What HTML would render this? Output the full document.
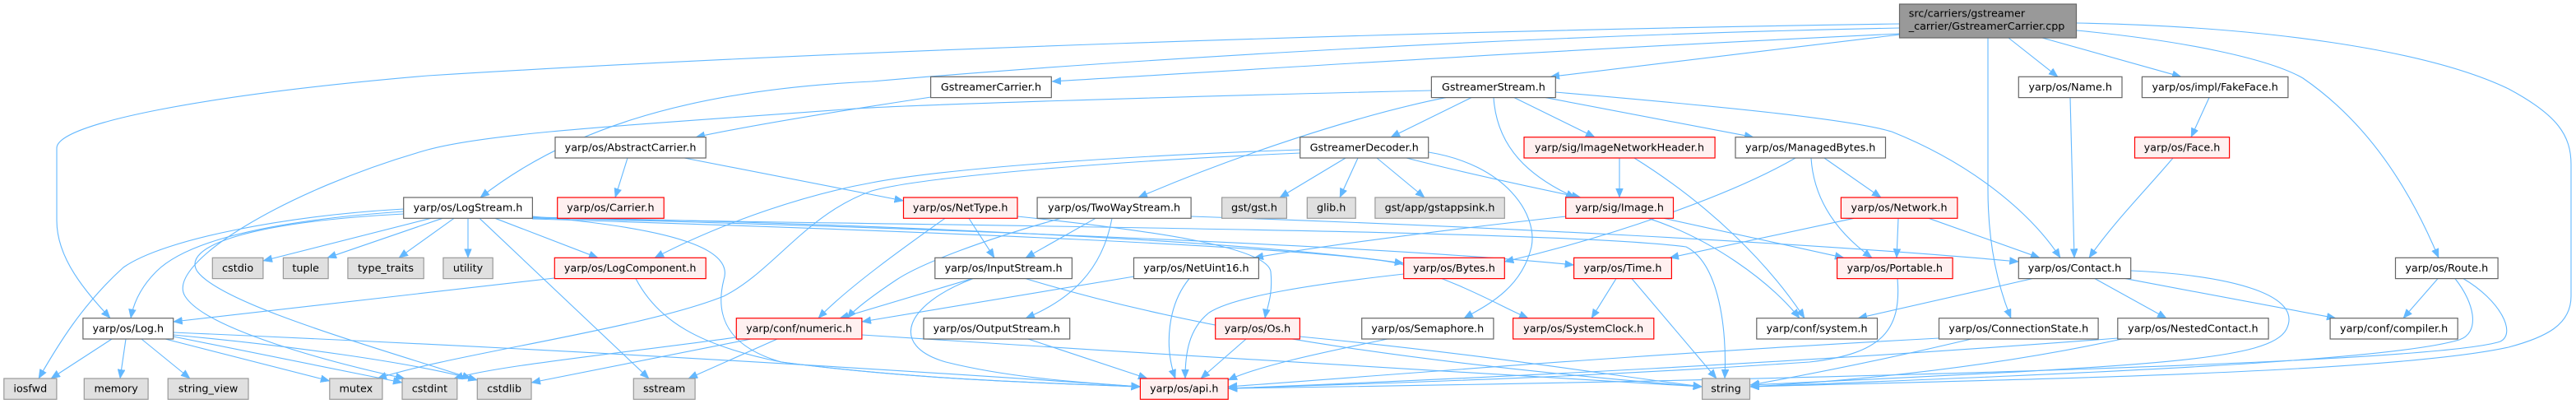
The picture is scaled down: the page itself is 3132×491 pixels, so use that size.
<!DOCTYPE html>
<html>
<head>
<meta charset="utf-8">
<style>
html,body{margin:0;padding:0;background:#fff;}
svg{display:block;}
.e{fill:none;stroke:#63b8ff;stroke-width:1.1;marker-end:url(#ah);}
.n rect{fill:#fff;stroke:#666;stroke-width:1.2;}
.r rect{fill:#fff0f0;stroke:#ff0000;stroke-width:1.2;}
.g rect{fill:#e0e0e0;stroke:#999;stroke-width:1.2;}
text{font-family:"DejaVu Sans","Liberation Sans",sans-serif;font-size:12.75px;fill:#000;text-anchor:middle;}
</style>
</head>
<body>
<svg width="3132" height="491" viewBox="0 0 3132 491" xmlns="http://www.w3.org/2000/svg">
<defs>
<marker id="ah" markerUnits="userSpaceOnUse" markerWidth="12" markerHeight="10" refX="11" refY="4.5" orient="auto">
<path d="M0,0 L11,4.5 L0,9 z" fill="#63b8ff" stroke="#63b8ff" stroke-width="0.5"/>
</marker>
</defs>
<rect x="0" y="0" width="3132" height="491" fill="#fff"/>

<!-- edges -->
<g>
<path class="e" d="M2310,41 C1900,60 1500,86 1279,99"/>
<path class="e" d="M2310,42 C2150,60 1990,80 1885,93.3"/>
<path class="e" d="M2310,29 C1700,38 1000,62 520,92 C250,115 69,150 69,180 L69,268 C69,315 105,355 134,386.7"/>
<path class="e" d="M2310,34 C1800,44 1300,78 1060,99 C820,110 680,165 584,240"/>
<path class="e" d="M2525,28 C2750,32 2950,60 3050,108 C3110,140 3126,165 3126,200 L3126,360 C3126,395 3095,410 3050,422 C2900,455 2400,462 2128,470"/>
<path class="e" d="M2525,37 C2660,50 2760,72 2800,95 C2880,150 2930,230 2965,313.3"/>
<path class="e" d="M2483,46 L2652,93.3"/>
<path class="e" d="M2442,46 L2502,93.3"/>
<path class="e" d="M2417,46 L2417,230 C2417,300 2430,350 2445,386.7"/>
<path class="e" d="M1132,118 C1000,138 900,155 846,166.7"/>
<path class="e" d="M763,192 L748,240"/>
<path class="e" d="M832,192 L1098.5,244"/>
<path class="e" d="M1789,118.6 L1691,166.7"/>
<path class="e" d="M1841,118.6 L1939,166.7"/>
<path class="e" d="M1816,118.6 C1820,180 1860,215 1915,240"/>
<path class="e" d="M1879,118.6 L2132,166.7"/>
<path class="e" d="M1891,112 C2100,130 2250,145 2300,160 C2400,200 2470,260 2505,313.3"/>
<path class="e" d="M1758,118.6 C1650,140 1500,190 1384,240"/>
<path class="e" d="M1740,110 C1400,118 1100,128 1040,132 C800,150 600,160 520,182 C350,230 200,320 225,360 C250,400 400,440 492,460"/>
<path class="e" d="M1636,192 L1556,240"/>
<path class="e" d="M1651,192 L1629,240"/>
<path class="e" d="M1674,192 L1732,240"/>
<path class="e" d="M1710,192 C1780,210 1850,225 1922,240"/>
<path class="e" d="M1737,185 C1830,200 1870,260 1862,300 C1850,350 1810,370 1780,386.7"/>
<path class="e" d="M1581,182 C1350,190 1150,205 1060,222 C960,240 860,280 796,313.3"/>
<path class="e" d="M1581,186 C1350,196 1120,215 1060,232 C980,260 940,330 880,360 C780,400 550,430 459,460"/>
<path class="e" d="M1969,192 L1969,240"/>
<path class="e" d="M1987,192 C2080,250 2150,320 2194,386.7"/>
<path class="e" d="M1904,263 C1750,280 1600,300 1525,313.3"/>
<path class="e" d="M2023,265.3 L2242,313.3"/>
<path class="e" d="M2004,265.3 C2080,290 2150,340 2188,386.7"/>
<path class="e" d="M2183,192 C2100,240 1950,290 1829.3,318"/>
<path class="e" d="M2202,192 C2205,240 2230,280 2276,313.3"/>
<path class="e" d="M2218,192 L2287,240"/>
<path class="e" d="M2308,265.3 L2306,313.3"/>
<path class="e" d="M2345,265.3 L2480,313.3"/>
<path class="e" d="M2254,265.3 L2030,313.3"/>
<path class="e" d="M2517,118.6 L2522,313.3"/>
<path class="e" d="M2642,192 C2610,230 2570,270 2540,313.3"/>
<path class="e" d="M2686,118.6 L2664,166.7"/>
<path class="e" d="M1448,263 C1800,275 2200,295 2454.3,318"/>
<path class="e" d="M2471,338.6 L2259,386.7"/>
<path class="e" d="M2547,338.6 L2634,386.7"/>
<path class="e" d="M2584,338.6 L2840,386.7"/>
<path class="e" d="M2591,329 C2720,335 2800,360 2780,400 C2760,440 2600,445 2128,468"/>
<path class="e" d="M2964,338.6 L2922,386.7"/>
<path class="e" d="M2985,338.6 C3010,370 3015,405 2990,413 C2900,440 2500,455 2128,470"/>
<path class="e" d="M2995,338.6 C3040,365 3060,405 3040,415 C2950,445 2000,465 1493.2,472"/>
<path class="e" d="M1965,338.6 L1935,386.7"/>
<path class="e" d="M1984,338.6 L2087,460"/>
<path class="e" d="M1707,333 C1600,345 1500,360 1470,380 C1445,400 1441,430 1441,460"/>
<path class="e" d="M1687,412 C1600,430 1530,445 1493,462"/>
<path class="e" d="M1515,412 L1460,460"/>
<path class="e" d="M1580,409 C1800,430 1950,455 2069.6,470"/>
<path class="e" d="M1446,338.6 C1420,370 1415,420 1429,460"/>
<path class="e" d="M1379,336 L1048,391"/>
<path class="e" d="M1182,338.6 L1021,386.7"/>
<path class="e" d="M1183,338.6 C1100,370 1080,420 1150,440 C1230,460 1320,465 1386.4,470"/>
<path class="e" d="M1247,338.6 C1450,400 1700,440 2069.6,470"/>
<path class="e" d="M1250,412 L1395,460"/>
<path class="e" d="M1332,265.3 L1247,313.3"/>
<path class="e" d="M1352,265.3 C1340,330 1300,365 1247,386.7"/>
<path class="e" d="M1290,265.3 C1200,290 1120,320 1090,340 C1060,360 1040,375 1030,386.7"/>
<path class="e" d="M1178,265.3 L1209,313.3"/>
<path class="e" d="M1149,265.3 C1100,300 1030,350 995,386.7"/>
<path class="e" d="M1237,263 C1400,280 1540,300 1545,330 C1548,360 1540,375 1538,386.7"/>
<path class="e" d="M895,410 C750,430 600,445 552,460"/>
<path class="e" d="M913,412 L646,465"/>
<path class="e" d="M945,412 L837,460"/>
<path class="e" d="M1048,407 C1400,430 1800,455 2069.6,470"/>
<path class="e" d="M524,265.3 L320,317"/>
<path class="e" d="M538,265.3 L398,313.3"/>
<path class="e" d="M552,265.3 L485,313.3"/>
<path class="e" d="M569,265.3 L569,313.3"/>
<path class="e" d="M602,265.3 L727,313.3"/>
<path class="e" d="M583,265.3 L789,460"/>
<path class="e" d="M491,257 C300,270 220,300 190,330 C170,350 162,370 159,386.7"/>
<path class="e" d="M491,254 C350,262 200,290 150,325 C100,370 70,420 47,460"/>
<path class="e" d="M491,260 C300,270 220,300 240,330 C270,370 450,420 573,460"/>
<path class="e" d="M647,264 C1000,270 1500,290 1706.7,320"/>
<path class="e" d="M647,265 C1100,275 1700,300 1913.6,322"/>
<path class="e" d="M647,266 C1100,280 1600,300 1700,320 C1780,345 1820,370 1858,386.7"/>
<path class="e" d="M647,265 C1200,275 1900,280 2050,300 C2090,320 2100,400 2097,460"/>
<path class="e" d="M647,263 C850,280 890,310 880,340 C870,380 880,420 950,440 C1100,460 1250,465 1386.4,470"/>
<path class="e" d="M674,338 L210.7,391"/>
<path class="e" d="M773,338.6 C800,390 850,420 950,440 C1100,460 1250,465 1386.4,470"/>
<path class="e" d="M136,412 L62,460"/>
<path class="e" d="M153,412 L146,460"/>
<path class="e" d="M172,412 L231,460"/>
<path class="e" d="M201,412 L400.8,463"/>
<path class="e" d="M210.7,409 L489,465"/>
<path class="e" d="M210.7,407 C350,420 500,440 580.3,462"/>
<path class="e" d="M210.7,404 C700,425 1100,450 1386.4,470"/>
<path class="e" d="M2307,338.6 C2312,400 2290,430 2200,440 C1900,460 1700,465 1493.2,472"/>
<path class="e" d="M2358,411 C2000,430 1700,455 1493.2,470"/>
<path class="e" d="M2397,412 C2300,435 2200,455 2128,468"/>
<path class="e" d="M2575,411 C2200,440 1800,460 1493.2,472"/>
<path class="e" d="M2580,412 C2450,440 2300,460 2128,470"/>
</g>

<!-- root -->
<g>
<rect x="2309.5" y="5" width="215" height="41" fill="#999999" stroke="#666666" stroke-width="1.2"/>
<text x="2320.7" y="20.7" style="text-anchor:start">src/carriers/gstreamer</text>
<text x="2320.7" y="36" style="text-anchor:start">_carrier/GstreamerCarrier.cpp</text>
</g>

<!-- row 1 (y=93.3) -->
<g class="n"><rect x="1131.6" y="93.3" width="146.7" height="25.3"/><text x="1205" y="110">GstreamerCarrier.h</text></g>
<g class="n"><rect x="1740.4" y="93.3" width="150.9" height="25.3"/><text x="1815.9" y="110">GstreamerStream.h</text></g>
<g class="n"><rect x="2454.3" y="93.3" width="125.7" height="25.3"/><text x="2517.2" y="110">yarp/os/Name.h</text></g>
<g class="n"><rect x="2604.4" y="93.3" width="177.5" height="25.3"/><text x="2693.2" y="110">yarp/os/impl/FakeFace.h</text></g>

<!-- row 2 (y=166.7) -->
<g class="n"><rect x="675" y="166.7" width="183.2" height="25.3"/><text x="766.6" y="183.3">yarp/os/AbstractCarrier.h</text></g>
<g class="n"><rect x="1580.7" y="166.7" width="156" height="25.3"/><text x="1658.7" y="183.3">GstreamerDecoder.h</text></g>
<g class="r"><rect x="1853" y="166.7" width="232.1" height="25.3"/><text x="1969" y="183.3">yarp/sig/ImageNetworkHeader.h</text></g>
<g class="n"><rect x="2110" y="166.7" width="182.5" height="25.3"/><text x="2201.2" y="183.3">yarp/os/ManagedBytes.h</text></g>
<g class="r"><rect x="2595.5" y="166.7" width="115.1" height="25.3"/><text x="2653" y="183.3">yarp/os/Face.h</text></g>

<!-- row 3 (y=240) -->
<g class="n"><rect x="490.7" y="240" width="156.7" height="25.3"/><text x="569" y="256.6">yarp/os/LogStream.h</text></g>
<g class="r"><rect x="677.7" y="240" width="129.5" height="25.3"/><text x="742.4" y="256.6">yarp/os/Carrier.h</text></g>
<g class="r"><rect x="1098.5" y="240" width="138.5" height="25.3"/><text x="1167.7" y="256.6">yarp/os/NetType.h</text></g>
<g class="n"><rect x="1261.1" y="240" width="187" height="25.3"/><text x="1354.6" y="256.6">yarp/os/TwoWayStream.h</text></g>
<g class="g"><rect x="1485.6" y="240" width="78.8" height="25.3"/><text x="1525" y="256.6">gst/gst.h</text></g>
<g class="g"><rect x="1589.3" y="240" width="58.9" height="25.3"/><text x="1618.7" y="256.6">glib.h</text></g>
<g class="g"><rect x="1671.9" y="240" width="157.4" height="25.3"/><text x="1750.6" y="256.6">gst/app/gstappsink.h</text></g>
<g class="r"><rect x="1903.7" y="240" width="130.8" height="25.3"/><text x="1969.1" y="256.6">yarp/sig/Image.h</text></g>
<g class="r"><rect x="2238.4" y="240" width="141.5" height="25.3"/><text x="2309.1" y="256.6">yarp/os/Network.h</text></g>

<!-- row 4 (y=313.3) -->
<g class="g"><rect x="258.3" y="313.3" width="61.6" height="25.3"/><text x="289.1" y="329.9">cstdio</text></g>
<g class="g"><rect x="344.4" y="313.3" width="54.7" height="25.3"/><text x="371.7" y="329.9">tuple</text></g>
<g class="g"><rect x="422.9" y="313.3" width="92.3" height="25.3"/><text x="469" y="329.9">type_traits</text></g>
<g class="g"><rect x="538.9" y="313.3" width="60.3" height="25.3"/><text x="569" y="329.9">utility</text></g>
<g class="r"><rect x="674.3" y="313.3" width="183.9" height="25.3"/><text x="766.2" y="329.9">yarp/os/LogComponent.h</text></g>
<g class="n"><rect x="1136.8" y="313.3" width="166.6" height="25.3"/><text x="1220.1" y="329.9">yarp/os/InputStream.h</text></g>
<g class="n"><rect x="1378.5" y="313.3" width="151.9" height="25.3"/><text x="1454.4" y="329.9">yarp/os/NetUint16.h</text></g>
<g class="r"><rect x="1706.7" y="313.3" width="122.6" height="25.3"/><text x="1768" y="329.9">yarp/os/Bytes.h</text></g>
<g class="r"><rect x="1913.6" y="313.3" width="118.8" height="25.3"/><text x="1973" y="329.9">yarp/os/Time.h</text></g>
<g class="r"><rect x="2233.6" y="313.3" width="140.5" height="25.3"/><text x="2303.8" y="329.9">yarp/os/Portable.h</text></g>
<g class="n"><rect x="2454.3" y="313.3" width="136.4" height="25.3"/><text x="2522.5" y="329.9">yarp/os/Contact.h</text></g>
<g class="n"><rect x="2912.5" y="313.3" width="124.6" height="25.3"/><text x="2974.8" y="329.9">yarp/os/Route.h</text></g>

<!-- row 5 (y=386.7) -->
<g class="n"><rect x="100.9" y="386.7" width="109.8" height="25.3"/><text x="155.8" y="403.3">yarp/os/Log.h</text></g>
<g class="r"><rect x="895.3" y="386.7" width="152.6" height="25.3"/><text x="971.6" y="403.3">yarp/conf/numeric.h</text></g>
<g class="n"><rect x="1123" y="386.7" width="177.7" height="25.3"/><text x="1211.8" y="403.3">yarp/os/OutputStream.h</text></g>
<g class="r"><rect x="1477.7" y="386.7" width="102.7" height="25.3"/><text x="1529" y="403.3">yarp/os/Os.h</text></g>
<g class="n"><rect x="1655.7" y="386.7" width="160.2" height="25.3"/><text x="1735.8" y="403.3">yarp/os/Semaphore.h</text></g>
<g class="r"><rect x="1839.6" y="386.7" width="171.2" height="25.3"/><text x="1925.2" y="403.3">yarp/os/SystemClock.h</text></g>
<g class="n"><rect x="2135.8" y="386.7" width="146.7" height="25.3"/><text x="2209.1" y="403.3">yarp/conf/system.h</text></g>
<g class="n"><rect x="2357.5" y="386.7" width="193.6" height="25.3"/><text x="2454.3" y="403.3">yarp/os/ConnectionState.h</text></g>
<g class="n"><rect x="2574.8" y="386.7" width="183.3" height="25.3"/><text x="2666.4" y="403.3">yarp/os/NestedContact.h</text></g>
<g class="n"><rect x="2833.1" y="386.7" width="155.1" height="25.3"/><text x="2910.6" y="403.3">yarp/conf/compiler.h</text></g>

<!-- row 6 (y=460) -->
<g class="g"><rect x="4.8" y="460" width="64.1" height="25.3"/><text x="36.8" y="476.6">iosfwd</text></g>
<g class="g"><rect x="102.3" y="460" width="77.8" height="25.3"/><text x="141.2" y="476.6">memory</text></g>
<g class="g"><rect x="204.2" y="460" width="97.8" height="25.3"/><text x="253.1" y="476.6">string_view</text></g>
<g class="g"><rect x="400.8" y="460" width="64.1" height="25.3"/><text x="432.8" y="476.6">mutex</text></g>
<g class="g"><rect x="489" y="460" width="66.8" height="25.3"/><text x="522.4" y="476.6">cstdint</text></g>
<g class="g"><rect x="580.3" y="460" width="65.7" height="25.3"/><text x="613.1" y="476.6">cstdlib</text></g>
<g class="g"><rect x="770.3" y="460" width="74.8" height="25.3"/><text x="807.7" y="476.6">sstream</text></g>
<g class="r"><rect x="1386.4" y="460" width="106.8" height="25.3"/><text x="1439.8" y="476.6">yarp/os/api.h</text></g>
<g class="g"><rect x="2069.6" y="460" width="57.9" height="25.3"/><text x="2098.5" y="476.6">string</text></g>
</svg>
</body>
</html>
